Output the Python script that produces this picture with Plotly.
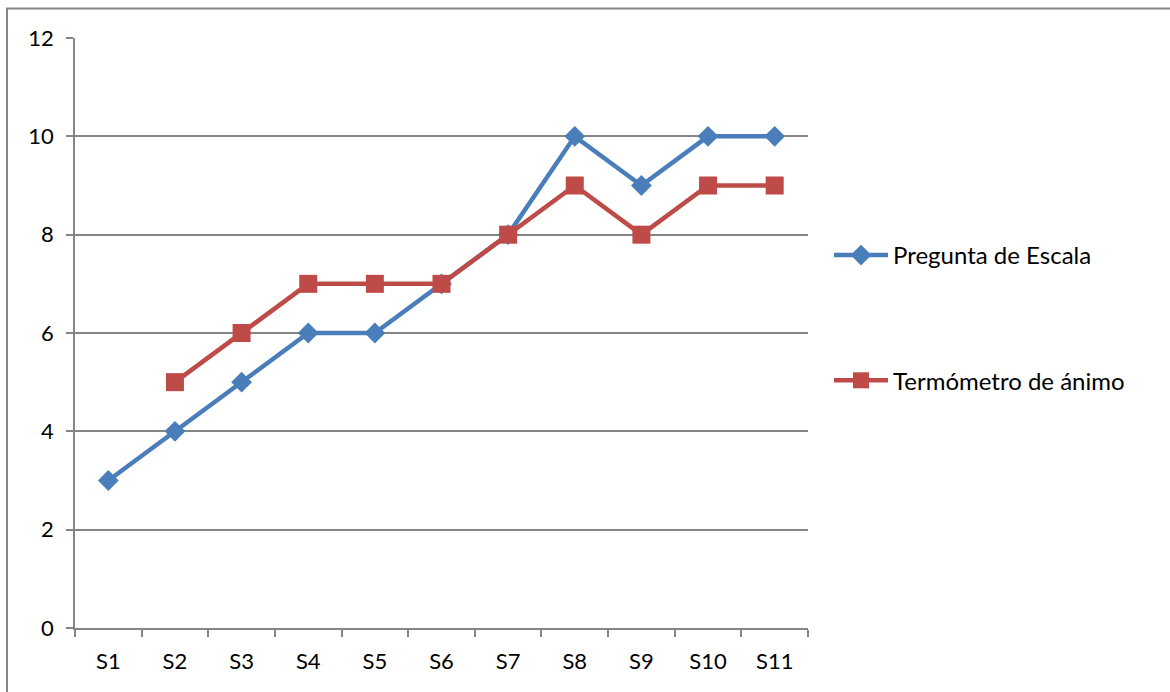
import plotly.graph_objects as go

sessions = ["S1", "S2", "S3", "S4", "S5", "S6", "S7", "S8", "S9", "S10", "S11"]
pregunta_escala = [3, 4, 5, 6, 6, 7, 8, 10, 9, 10, 10]
termometro_animo = [None, 5, 6, 7, 7, 7, 8, 9, 8, 9, 9]
y_ticks = [0, 2, 4, 6, 8, 10, 12]

W, H = 1170, 692
L, R, T, B = 75, 808, 38, 628  # plot area in pixels
pw, ph = R - L, B - T


def px_x(p):
    return (p - L) / pw


def px_y(q):
    return (B - q) / ph


BLUE = "#4A7EBB"
RED = "#BE4B48"
GRID = "#868686"
FONT = "Lato"

fig = go.Figure()
fig.add_trace(go.Scatter(
    x=sessions, y=pregunta_escala, name="Pregunta de Escala",
    mode="lines+markers", legendgroup="a",
    line=dict(color=BLUE, width=4.5),
    marker=dict(symbol="diamond", size=16, color=BLUE),
))
fig.add_trace(go.Scatter(
    x=sessions, y=termometro_animo, name="Termómetro de ánimo",
    mode="lines+markers", legendgroup="b",
    line=dict(color=RED, width=4.5),
    marker=dict(symbol="square", size=18, color=RED),
))

fig.update_layout(
    width=W, height=H,
    margin=dict(l=L, r=W - R, t=T, b=H - B, pad=0),
    paper_bgcolor="white", plot_bgcolor="white",
    font=dict(family=FONT, size=22, color="#000000"),
    showlegend=True,
    legend=dict(
        x=px_x(829), y=px_y(233), xanchor="left", yanchor="top",
        traceorder="grouped", tracegroupgap=91, itemwidth=54,
        font=dict(family=FONT, size=24, color="#000000"),
        bgcolor="rgba(0,0,0,0)",
    ),
    xaxis=dict(
        type="category", range=[-0.5, 10.5],
        tickson="boundaries", ticks="outside", ticklen=7, tickwidth=1.5,
        tickcolor=GRID, showline=True, linecolor=GRID, linewidth=1.8,
        showgrid=False, zeroline=False, ticklabelstandoff=13,
        tickfont=dict(family=FONT, size=22),
    ),
    yaxis=dict(
        range=[0, 12], tickvals=y_ticks, ticks="outside", ticklen=7,
        tickwidth=1.5, tickcolor=GRID, showline=True, linecolor=GRID,
        linewidth=1.8, showgrid=True, gridcolor=GRID, gridwidth=1.6,
        zeroline=False, ticklabelstandoff=8,
        tickfont=dict(family=FONT, size=22),
    ),
    shapes=[dict(
        type="rect", xref="paper", yref="paper",
        x0=px_x(7), x1=px_x(1180), y0=px_y(705), y1=px_y(8.5),
        line=dict(color="#868686", width=2), layer="below",
    )],
)

fig.write_html("out.html")
